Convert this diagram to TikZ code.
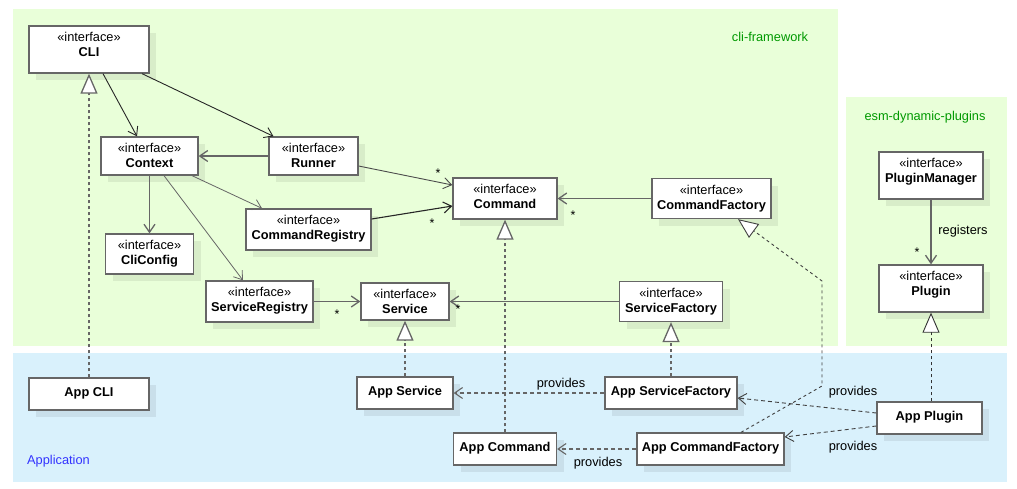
\documentclass[tikz,border=0pt]{standalone}
\usepackage{fontspec}
\setmainfont{Liberation Sans}
\usetikzlibrary{arrows.meta,shadows}
\definecolor{frameworkbg}{HTML}{E9FFD9}
\definecolor{appbg}{HTML}{D9F1FC}
\definecolor{pkggreen}{HTML}{009900}
\definecolor{pkgblue}{HTML}{3333FF}
\definecolor{boxline}{HTML}{666666}
\definecolor{linegray}{HTML}{666666}
\tikzset{
  box/.style={draw=boxline, line width=1.3pt, fill=white, inner sep=0pt,
    drop shadow={shadow xshift=7pt, shadow yshift=-7pt, fill=black, opacity=0.07}},
  boxtext/.style={font=\fontsize{12.8}{15}\selectfont, align=center, inner sep=0pt},
  iface/.style={box, label={[boxtext, anchor=north, yshift=-7pt]north:{«interface»\\\textbf{#1}}}},
  impl/.style={box, label={[boxtext, yshift=1pt, font=\fontsize{12.8}{15}\selectfont\bfseries]center:{#1}}},
  assoc/.style={-{Straight Barb[length=8pt,width=11pt]}, line width=0.9pt, draw=black!85},
  assocgray/.style={assoc, draw=linegray, line width=1.3pt},
  realize/.style={-{Triangle[length=20pt,width=17pt,fill=white]}, draw=linegray, line width=1.3pt, dash pattern=on 3pt off 3pt},
  provide/.style={-{Straight Barb[length=8pt,width=11pt]}, draw=linegray, line width=1.1pt, dash pattern=on 4pt off 3pt},
  mult/.style={font=\fontsize{12.5}{13}\selectfont, inner sep=0pt},
  edgetext/.style={font=\fontsize{12.8}{15}\selectfont, inner sep=0pt},
}
\begin{document}
\begin{tikzpicture}[x=1pt,y=-1pt]
\useasboundingbox (0,0) rectangle (1017,488);
% package areas
\fill[frameworkbg] (13,9) rectangle (838,346);
\fill[frameworkbg] (846,97) rectangle (1007,346);
\fill[appbg] (13,353) rectangle (1007,482);
\node[edgetext, text=pkggreen] (fwtitle) at (770,37) {cli-framework};
\node[edgetext, text=pkggreen] (plgtitle) at (925,117) {esm-dynamic-plugins};
\node[edgetext, text=pkgblue] (apptitle) at (58.5,461) {Application};

% interfaces
\node[iface=CLI, minimum width=120pt, minimum height=47pt] (cli) at (89,49.5) {};
\node[iface=Context, minimum width=97pt, minimum height=38pt] (ctx) at (149.5,156) {};
\node[iface=Runner, minimum width=89pt, minimum height=38pt] (run) at (313.5,156) {};
\node[iface=CliConfig, minimum width=88pt, minimum height=40pt] (cfg) at (149.5,254) {};
\node[iface=CommandRegistry, minimum width=125pt, minimum height=41pt] (creg) at (308.5,229.5) {};
\node[iface=ServiceRegistry, minimum width=107pt, minimum height=41pt] (sreg) at (259.5,301.5) {};
\node[iface=Service, minimum width=88pt, minimum height=37pt] (srv) at (405,301.5) {};
\node[iface=Command, minimum width=104pt, minimum height=41pt] (cmd) at (505,198.5) {};
\node[iface=CommandFactory, minimum width=119pt, minimum height=40pt] (cfac) at (711.5,198.5) {};
\node[iface=ServiceFactory, minimum width=103pt, minimum height=40pt] (sfac) at (671,301.5) {};
\node[iface=PluginManager, minimum width=104pt, minimum height=47pt] (pm) at (931,175.5) {};
\node[iface=Plugin, minimum width=104pt, minimum height=47pt] (plg) at (931,288.5) {};

% application classes
\node[impl={App CLI}, minimum width=120pt, minimum height=32pt] (appcli) at (89,394) {};
\node[impl={App Service}, minimum width=96pt, minimum height=32pt] (asrv) at (405,393) {};
\node[impl={App Command}, minimum width=103pt, minimum height=32pt] (acmd) at (505,449) {};
\node[impl={App ServiceFactory}, minimum width=132pt, minimum height=32pt] (asf) at (671,393) {};
\node[impl={App CommandFactory}, minimum width=147pt, minimum height=32pt] (acf) at (710.5,449) {};
\node[impl={App Plugin}, minimum width=105pt, minimum height=32pt] (appplg) at (929.5,418) {};

% associations
\draw[assoc] ([xshift=14pt]cli.south) -- ([xshift=-12.5pt]ctx.north);
\draw[assoc] ([xshift=53pt]cli.south) -- ([xshift=-40pt]run.north);
\draw[assocgray] (run.west) -- (ctx.east);
\draw[assocgray] (ctx.south) -- (cfg.north);
\draw[assocgray, line width=0.8pt] ([xshift=42.5pt]ctx.south) -- ([xshift=-46.5pt]creg.north);
\draw[assocgray, line width=0.8pt] ([xshift=14.5pt]ctx.south) -- ([xshift=-16.5pt]sreg.north);
\draw[assoc, draw=black!70] ([yshift=-10pt]run.east) -- ([yshift=13.5pt]cmd.west);
\draw[assoc, line width=1.1pt] ([yshift=10.5pt]creg.east) -- ([yshift=-7.5pt]cmd.west);
\draw[assocgray] (cfac.west) -- (cmd.east);
\draw[assocgray] (sreg.east) -- (srv.west);
\draw[assocgray] (sfac.west) -- (srv.east);
\draw[assocgray] (pm.south) -- (plg.north);
\node[mult] (m1) at (438,173) {*};
\node[mult] (m2) at (432,223) {*};
\node[mult] (m3) at (573,215) {*};
\node[mult] (m4) at (337,314) {*};
\node[mult] (m5) at (458,309) {*};
\node[mult] (m6) at (917,252) {*};
\node[edgetext] (reg) at (963,231) {registers};

% realizations
\coordinate (bendA) at (822,386);
\coordinate (bendB) at (822,281);
\draw[realize] (appcli.north) -- (cli.south);
\draw[realize] (asrv.north) -- (srv.south);
\draw[realize] (acmd.north) -- (cmd.south);
\draw[realize] (asf.north) -- (sfac.south);
\draw[realize, draw=black!80, line width=0.9pt] (appplg.north -| plg.south) -- (plg.south);
\draw[realize, draw=black!75, line width=0.9pt] ([xshift=30.5pt]acf.north) -- (bendA) -- (bendB) -- ([xshift=26.5pt]cfac.south);

% provides
\draw[provide] (asf.west) -- (asrv.east);
\draw[provide] (acf.west) -- (acmd.east);
\draw[provide, draw=black!75, line width=0.9pt] ([yshift=5pt]appplg.west) -- ([yshift=-5pt]asf.east);
\draw[provide, draw=black!75, line width=0.9pt] ([yshift=-8pt]appplg.west) -- ([yshift=12pt]acf.east);
\node[edgetext] (prov1) at (561,384) {provides};
\node[edgetext] (prov2) at (598,463) {provides};
\node[edgetext] (prov3) at (853,392) {provides};
\node[edgetext] (prov4) at (853,447) {provides};
\end{tikzpicture}
\end{document}
